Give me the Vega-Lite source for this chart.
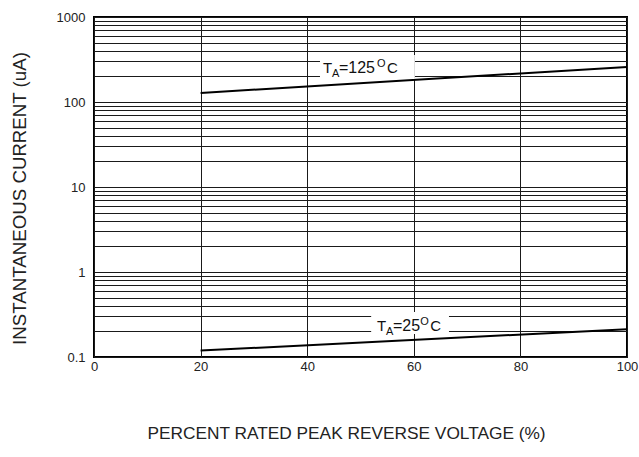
{
  "$schema": "https://vega.github.io/schema/vega-lite/v6.json",
  "width": 533,
  "height": 340,
  "autosize": "none",
  "padding": {"left": 94, "top": 17, "right": 12, "bottom": 100},
  "background": "#ffffff",
  "config": {
    "font": "Liberation Sans",
    "view": {"stroke": "#000000", "strokeWidth": 2},
    "axis": {
      "domain": false,
      "ticks": false,
      "grid": true,
      "gridColor": "#1a1a1a",
      "gridWidth": 1,
      "gridOpacity": 1,
      "labelFont": "Liberation Sans",
      "labelFontSize": 13,
      "labelColor": "#222222",
      "titleFont": "Liberation Sans",
      "titleFontSize": 17.3,
      "titleFontWeight": "normal",
      "titleColor": "#222222",
      "labelOverlap": false,
      "labelFlush": false
    }
  },
  "datasets": {
    "curves": [
      {"temp": "125", "pct": 20, "current": 128},
      {"temp": "125", "pct": 100, "current": 258},
      {"temp": "25", "pct": 20, "current": 0.119},
      {"temp": "25", "pct": 100, "current": 0.212}
    ],
    "labels": [
      {"temp": "125", "x": 42.96, "xo": 53.1, "y": 219, "num": "=125", "x1": 42.4, "x2": 60.2, "y1": 357, "y2": 186},
      {"temp": "25", "x": 53.1, "xo": 61.2, "y": 0.202, "num": "=25", "x1": 52.0, "x2": 66.6, "y1": 0.338, "y2": 0.187}
    ]
  },
  "layer": [
    {
      "data": {"name": "curves"},
      "mark": {"type": "line", "color": "#000000", "strokeWidth": 2},
      "encoding": {
        "x": {
          "field": "pct",
          "type": "quantitative",
          "scale": {"domain": [0, 100], "nice": false},
          "axis": {
            "values": [0, 20, 40, 60, 80, 100],
            "labelPadding": 3,
            "title": "PERCENT RATED PEAK REVERSE VOLTAGE (%)",
            "titlePadding": 51,
            "titleX": 252
          }
        },
        "y": {
          "field": "current",
          "type": "quantitative",
          "scale": {"type": "log", "domain": [0.1, 1000], "nice": false},
          "axis": {
            "values": [0.1, 0.2, 0.3, 0.4, 0.5, 0.6, 0.7, 0.8, 0.9, 1, 2, 3, 4, 5, 6, 7, 8, 9, 10, 20, 30, 40, 50, 60, 70, 80, 90, 100, 200, 300, 400, 500, 600, 700, 800, 900, 1000],
            "labelExpr": "indexof(['0.1','1','10','100','1000'], format(datum.value, '~g')) >= 0 ? format(datum.value, '~g') : ''",
            "labelPadding": 9,
            "title": "INSTANTANEOUS CURRENT (uA)",
            "titleFontSize": 18.7,
            "titlePadding": 27,
            "titleY": 181
          }
        },
        "detail": {"field": "temp"}
      }
    },
    {
      "data": {"name": "labels"},
      "mark": {"type": "rect", "color": "#ffffff"},
      "encoding": {
        "x": {"field": "x1", "type": "quantitative"},
        "x2": {"field": "x2"},
        "y": {"field": "y1", "type": "quantitative"},
        "y2": {"field": "y2"}
      }
    },
    {
      "data": {"name": "labels"},
      "mark": {"type": "text", "text": "T", "align": "left", "baseline": "alphabetic", "fontSize": 15, "color": "#111111"},
      "encoding": {
        "x": {"field": "x", "type": "quantitative"},
        "y": {"field": "y", "type": "quantitative"}
      }
    },
    {
      "data": {"name": "labels"},
      "mark": {"type": "text", "text": "A", "align": "left", "baseline": "alphabetic", "fontSize": 11, "dx": 9, "dy": 4, "color": "#111111"},
      "encoding": {
        "x": {"field": "x", "type": "quantitative"},
        "y": {"field": "y", "type": "quantitative"}
      }
    },
    {
      "data": {"name": "labels"},
      "mark": {"type": "text", "align": "left", "baseline": "alphabetic", "fontSize": 16, "dx": 16, "color": "#111111"},
      "encoding": {
        "x": {"field": "x", "type": "quantitative"},
        "y": {"field": "y", "type": "quantitative"},
        "text": {"field": "num"}
      }
    },
    {
      "data": {"name": "labels"},
      "mark": {"type": "text", "text": "O", "align": "left", "baseline": "alphabetic", "fontSize": 11, "dy": -6, "color": "#111111"},
      "encoding": {
        "x": {"field": "xo", "type": "quantitative"},
        "y": {"field": "y", "type": "quantitative"}
      }
    },
    {
      "data": {"name": "labels"},
      "mark": {"type": "text", "text": "C", "align": "left", "baseline": "alphabetic", "fontSize": 15, "dx": 10, "color": "#111111"},
      "encoding": {
        "x": {"field": "xo", "type": "quantitative"},
        "y": {"field": "y", "type": "quantitative"}
      }
    }
  ]
}
